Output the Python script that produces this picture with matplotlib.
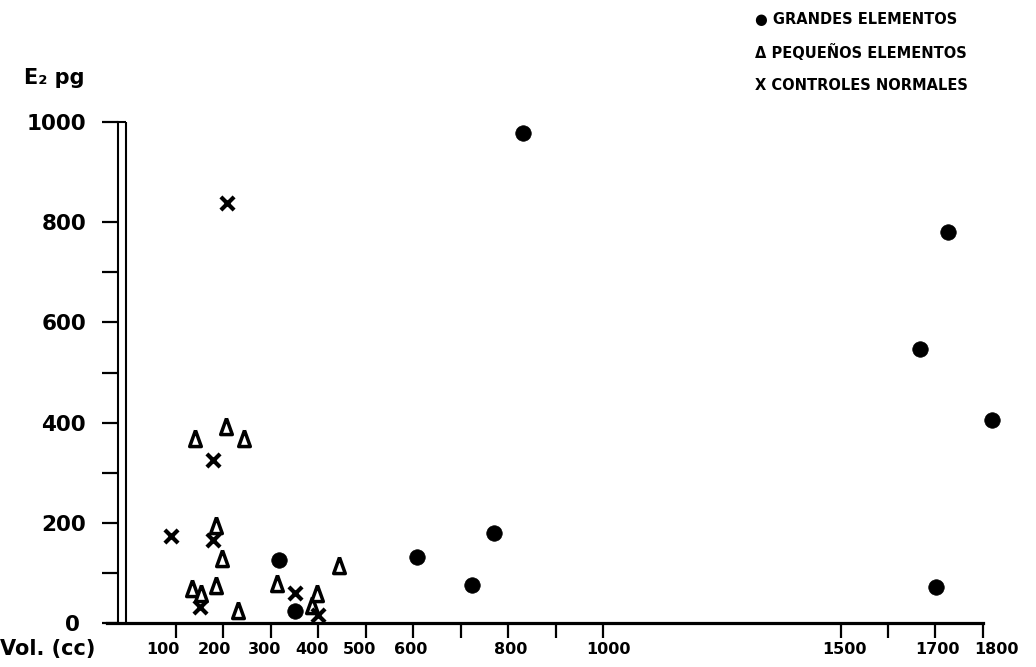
import matplotlib
matplotlib.use("Agg")
import matplotlib.pyplot as plt
from matplotlib.transforms import ScaledTranslation

# ---------------- data ----------------
grandes_vol = [318, 351, 607, 724, 771, 830, 1668, 1701, 1726, 1818]
grandes_e2 = [126, 24, 132, 76, 179, 978, 547, 72, 780, 405]

pequenos_vol = [133, 140, 153, 184, 184, 198, 205, 231, 243, 312, 386, 398, 443]
pequenos_e2 = [70, 369, 60, 76, 196, 130, 393, 26, 369, 80, 36, 59, 116]

controles_vol = [90, 151, 177, 177, 207, 351, 400]
controles_e2 = [174, 31, 166, 325, 838, 59, 16]

x_major_ticks = [100, 200, 300, 400, 500, 600, 700, 800, 900, 1000,
                 1500, 1600, 1700, 1800]
x_tick_labels = ["100", "200", "300", "400", "500", "600", "", "800", "",
                 "1000", "1500", "", "1700", "1800"]
y_major_ticks = [0, 200, 400, 600, 800, 1000]
y_tick_labels = ["0", "200", "400", "600", "800", "1000"]
y_minor_ticks = [100, 300, 500, 700]

legend_texts = ["\u25CF GRANDES ELEMENTOS",
                "\u0394 PEQUE\u00D1OS ELEMENTOS",
                "X CONTROLES NORMALES"]
y_axis_title = "E\u2082 pg"
x_axis_title = "Vol. (cc)"

BOLD = "DejaVu Sans"

W, H = 1036, 667
fig = plt.figure(figsize=(W / 100, H / 100), dpi=100)

# axes placement (pixel mapping measured from reference)
xlo, xhi = -60, 1860
ylo, yhi = -10, 1040
px_per_x = 0.4747
px_per_y = 0.501
x0_px = 128.5
y0_px = 623.0
left_px = x0_px + xlo * px_per_x
width_px = (xhi - xlo) * px_per_x
bottom_px = y0_px - ylo * px_per_y
height_px = (yhi - ylo) * px_per_y
ax = fig.add_axes([left_px / W, (H - bottom_px) / H, width_px / W, height_px / H])
ax.set_xlim(xlo, xhi)
ax.set_ylim(ylo, yhi)
ax.patch.set_alpha(0)

# spines
for s in ("top", "right"):
    ax.spines[s].set_visible(False)
ax.spines["left"].set_position(("data", -22))
ax.spines["left"].set_bounds(0, 1000)
ax.spines["left"].set_linewidth(1.5)
ax.spines["bottom"].set_position(("data", 0))
ax.spines["bottom"].set_bounds(-45, 1800)
ax.spines["bottom"].set_linewidth(2.3)
ax.vlines(-5, 0, 1000, colors="black", linewidth=1.5, zorder=2)
ax.hlines(1000, -22, -5, colors="black", linewidth=1.5, zorder=2)

# ticks
ax.set_xticks(x_major_ticks)
ax.set_xticklabels(x_tick_labels)
ax.set_yticks(y_major_ticks)
ax.set_yticklabels(y_tick_labels)
ax.set_yticks(y_minor_ticks, minor=True)
ax.tick_params(axis="x", which="major", direction="out", length=10.5, width=1.6,
               pad=3.5, labelsize=11.5)
ax.tick_params(axis="y", which="both", direction="out", length=11.5, width=1.6,
               pad=11.5, labelsize=15.5)
for lab in ax.get_xticklabels() + ax.get_yticklabels():
    lab.set_fontweight("bold")
    lab.set_family(BOLD)

# small horizontal shifts of tick labels as in the hand lettering
x_label_shift_px = [-13, -9, -6, -6, -6, -3, 0, 2, 0, 5, 4, 0, 2, 13]
for lab, dx in zip(ax.get_xticklabels(), x_label_shift_px):
    lab.set_transform(lab.get_transform() + ScaledTranslation(dx / 100, 0, fig.dpi_scale_trans))
y_label_shift_px = [-6, 0, 0, 0, 0, 0]
for lab, dx in zip(ax.get_yticklabels(), y_label_shift_px):
    lab.set_transform(lab.get_transform() + ScaledTranslation(dx / 100, 0, fig.dpi_scale_trans))

# markers
ax.scatter(grandes_vol, grandes_e2, s=125, marker="o", facecolor="black",
           edgecolor="black", linewidth=0.5, zorder=4, clip_on=False)
tri = [(0, 1), (-0.72, -1), (0.72, -1), (0, 1)]
ax.scatter(pequenos_vol, pequenos_e2, s=135, marker=tri, facecolor="white",
           edgecolor="black", linewidth=2.5, zorder=3, clip_on=False)
ax.scatter(controles_vol, controles_e2, s=90, marker="x", color="black",
           linewidth=3.0, zorder=3, clip_on=False)

# titles
fig.text(0 / W, 1 - 649 / H, x_axis_title, fontsize=15, fontweight="bold",
         family=BOLD, ha="left", va="center")
fig.text(24 / W, 1 - 78 / H, y_axis_title, fontsize=15, fontweight="bold",
         family=BOLD, ha="left", va="center")

# legend as lettered text
leg_y = [20, 52, 85]
for t, yy in zip(legend_texts, leg_y):
    fig.text(755 / W, 1 - yy / H, t, fontsize=10.5, fontweight="bold",
             family=[BOLD], ha="left", va="center")

fig.savefig("out.png", dpi=100)
